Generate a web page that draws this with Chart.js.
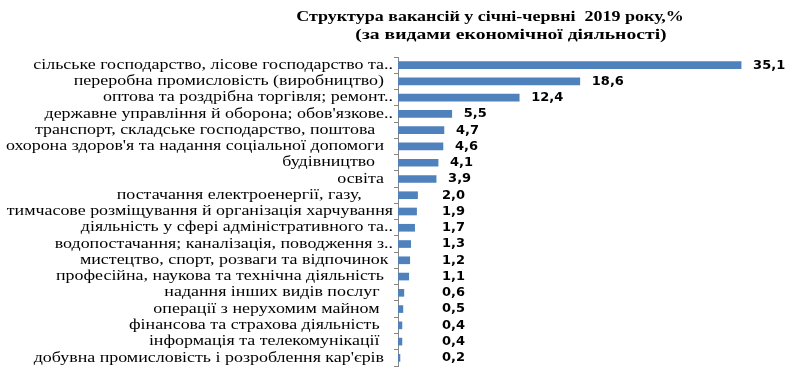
<!DOCTYPE html>
<html lang="uk">
<head>
    <meta charset="UTF-8">
    <script src="https://cdn.jsdelivr.net/npm/chart.js@4.4.1/dist/chart.umd.min.js"></script>
    <title>Структура вакансій</title>
    <style>
        html, body { margin: 0; padding: 0; background: #fff; }
        #wrap { width: 797px; height: 386px; }
    </style>
</head>
<body>
<div id="wrap"><canvas id="myChart"></canvas></div>
<script>
    // categories (top to bottom)
    const categories = [
        'сільське господарство, лісове господарство та..',
        'переробна промисловість (виробництво)  ',
        'оптова та роздрібна торгівля; ремонт..',
        'державне управління й оборона; обов\'язкове..',
        'транспорт, складське господарство, поштова    ',
        'охорона здоров\'я та надання соціальної допомоги  ',
        'будівництво    ',
        'освіта  ',
        'постачання електроенергії, газу,       ',
        'тимчасове розміщування й організація харчування',
        'діяльність у сфері адміністративного та..',
        'водопостачання; каналізація, поводження з..',
        'мистецтво, спорт, розваги та відпочинок ',
        'професійна, наукова та технічна діяльність  ',
        'надання інших видів послуг   ',
        'операції з нерухомим майном   ',
        'фінансова та страхова діяльність   ',
        'інформація та телекомунікації   ',
        'добувна промисловість і розроблення кар\'єрів  '
    ];
    const shares = [35.1, 18.6, 12.4, 5.5, 4.7, 4.6, 4.1, 3.9, 2.0, 1.9, 1.7, 1.3, 1.2, 1.1, 0.6, 0.5, 0.4, 0.4, 0.2];
    const titleLines = ['Структура вакансій у січні-червні  2019 року,%', '(за видами економічної діяльності)'];

    // the original text is stretched sideways, so draw it with a horizontal scale
    function wideText(ctx, txt, x, y, sx) {
        ctx.save();
        ctx.translate(x, y);
        ctx.scale(sx, 1);
        ctx.fillText(txt, 0, 0);
        ctx.restore();
    }

    const titlePlugin = {
        id: 'offTitle',
        afterDraw(chart) {
            const ctx = chart.ctx;
            ctx.save();
            ctx.fillStyle = '#000';
            ctx.font = 'bold 15px "Liberation Serif"';
            ctx.textAlign = 'center';
            ctx.textBaseline = 'middle';
            wideText(ctx, titleLines[0], 490, 17, 1.2);
            wideText(ctx, titleLines[1], 511, 35, 1.31);
            ctx.restore();
        }
    };

    // category labels, placed with the y scale
    const catLabels = {
        id: 'catLabels',
        afterDraw(chart) {
            const ctx = chart.ctx;
            const y = chart.scales.y;
            ctx.save();
            ctx.fillStyle = '#000';
            ctx.font = '14px "Liberation Serif"';
            ctx.textAlign = 'right';
            ctx.textBaseline = 'middle';
            categories.forEach((c, i) => {
                wideText(ctx, c, y.right - 5, y.getPixelForTick(i), 1.28);
            });
            ctx.restore();
        }
    };

    // value labels right of the bars
    const valueLabels = {
        id: 'valueLabels',
        afterDatasetsDraw(chart) {
            const ctx = chart.ctx;
            const meta = chart.getDatasetMeta(0);
            ctx.save();
            ctx.fillStyle = '#000';
            ctx.font = 'bold 13px "DejaVu Sans"';
            ctx.textAlign = 'left';
            ctx.textBaseline = 'middle';
            meta.data.forEach((bar, i) => {
                const txt = shares[i].toFixed(1).replace('.', ',');
                ctx.fillText(txt, Math.max(bar.x + 12, 442), bar.y);
            });
            ctx.restore();
        }
    };

    const ctx = document.getElementById('myChart').getContext('2d');
    new Chart(ctx, {
        type: 'bar',
        data: {
            labels: categories,
            datasets: [{
                data: shares,
                backgroundColor: '#4F81BD',
                barThickness: 7
            }]
        },
        options: {
            indexAxis: 'y',
            responsive: true,
            maintainAspectRatio: false,
            animation: false,
            layout: { padding: { top: 57, right: 8, bottom: 20, left: 0 } },
            plugins: {
                legend: { display: false },
                title: { display: false },
                tooltip: { enabled: false }
            },
            scales: {
                x: {
                    display: false,
                    min: 0,
                    max: 40
                },
                y: {
                    offset: true,
                    grid: {
                        offset: true,
                        drawOnChartArea: false,
                        tickLength: 4,
                        color: '#868686'
                    },
                    border: { color: '#868686' },
                    ticks: { display: false },
                    afterFit(scale) { scale.width = 398; }
                }
            }
        },
        plugins: [titlePlugin, catLabels, valueLabels]
    });
</script>
</body>
</html>
